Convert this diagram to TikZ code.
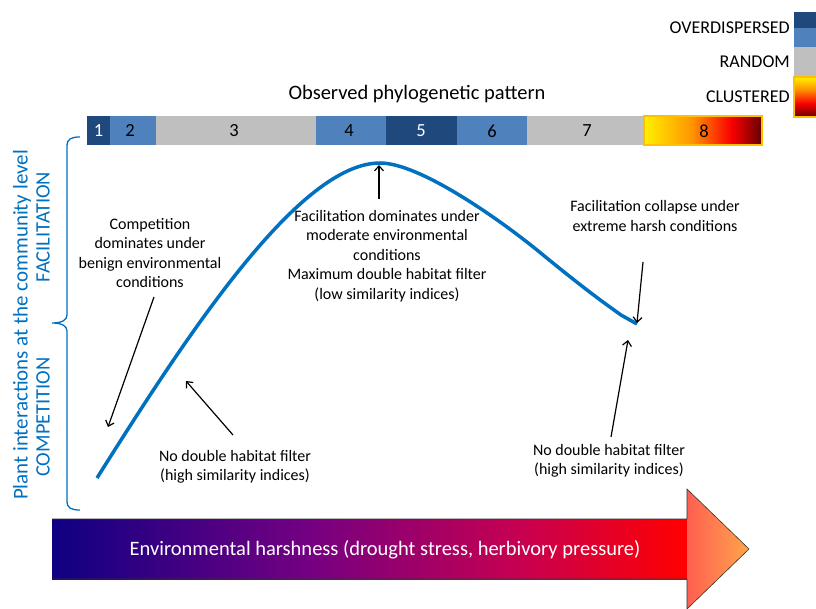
\documentclass[tikz,border=0pt]{standalone}
\usepackage{fontspec}
\setmainfont{Carlito}
\usetikzlibrary{arrows.meta}

\definecolor{dkblue}{RGB}{31,73,125}
\definecolor{ltblue}{RGB}{79,129,189}
\definecolor{midgrey}{RGB}{191,191,191}
\definecolor{plantblue}{RGB}{0,112,192}
\definecolor{goldline}{RGB}{255,192,0}
\definecolor{clyellow}{RGB}{255,240,0}
\definecolor{clorange}{RGB}{255,150,0}
\definecolor{clred}{RGB}{250,0,0}
\definecolor{cldark}{RGB}{100,0,0}
\definecolor{harshnavy}{RGB}{15,0,130}
\definecolor{harshpurple}{RGB}{115,0,130}
\definecolor{harshcrimson}{RGB}{200,0,80}
\definecolor{harshred}{RGB}{255,0,0}
\definecolor{headleft}{RGB}{255,95,80}
\definecolor{headright}{RGB}{255,165,75}

\pgfdeclarehorizontalshading{clusteredh}{100bp}{color(0bp)=(clyellow); color(25bp)=(clyellow); color(45bp)=(clorange); color(62bp)=(clred); color(75bp)=(cldark); color(100bp)=(cldark)}
\pgfdeclareverticalshading{clusteredv}{100bp}{color(0bp)=(cldark); color(25bp)=(cldark); color(42bp)=(clred); color(60bp)=(clorange); color(75bp)=(clyellow); color(100bp)=(clyellow)}
\pgfdeclarehorizontalshading{harsh}{100bp}{color(0bp)=(harshnavy); color(25bp)=(harshnavy); color(45bp)=(harshpurple); color(62bp)=(harshcrimson); color(75bp)=(harshred); color(100bp)=(harshred)}

\tikzset{
  note/.style={font=\fontsize{16}{19.5}\selectfont, align=center, inner sep=0pt},
  num/.style={font=\fontsize{18.5}{18.5}\selectfont, inner sep=0pt},
  leg/.style={anchor=east, font=\fontsize{18}{18}\selectfont, inner sep=0pt},
  ptr/.style={-{Straight Barb[length=5pt,width=9pt]}, line width=1.2pt},
}

\begin{document}
\begin{tikzpicture}[x=1pt,y=-1pt]%phylogenetic pattern along harshness
\useasboundingbox (0,0) rectangle (816,609);
% legend
\fill[dkblue] (794,12) rectangle (816,28);
\fill[ltblue] (794,28) rectangle (816,47);
\fill[midgrey] (794,47) rectangle (816,77);
\shade[shading=clusteredv] (794,77) rectangle (816,117);
\draw[goldline, line width=1.5pt] (816,77) -- (794,77) -- (794,117) -- (816,117);
\node[leg] (over) at (790,28) {OVERDISPERSED};
\node[leg] (rand) at (790,62) {RANDOM};
\node[leg] (clus) at (790,97) {CLUSTERED};
% bar
\node[font=\fontsize{20.5}{20.5}\selectfont] (title) at (417,94) {Observed phylogenetic pattern};
\fill[dkblue] (87,116) rectangle (110,145);
\fill[ltblue] (110,116) rectangle (156,145);
\fill[midgrey] (156,116) rectangle (316,145);
\fill[ltblue] (316,116) rectangle (386,145);
\fill[dkblue] (386,116) rectangle (457,145);
\fill[ltblue] (457,116) rectangle (527,145);
\fill[midgrey] (527,116) rectangle (644,145);
\shade[shading=clusteredh] (644,116) rectangle (762,145);
\draw[goldline, line width=1.5pt] (644,116) rectangle (762,145);
\node[num, white] (n1) at (98.5,131) {1};
\node[num] (n2) at (130,131) {2};
\node[num] (n3) at (234,131) {3};
\node[num] (n4) at (349,131) {4};
\node[num, white] (n5) at (421,131) {5};
\node[num] (n6) at (492,131) {6};
\node[num] (n7) at (587,131) {7};
\node[num] (n8) at (704,131) {8};
% brace and axis labels
\draw[plantblue, line width=1.3pt] (80,137) .. controls (71,137) and (67,139) .. (67,146) -- (67,315)
  .. controls (67,320) and (62,323) .. (52,323) .. controls (62,323) and (67,326) .. (67,331)
  -- (67,501) .. controls (67,508) and (71,510) .. (80,510);
\node[rotate=90, text=plantblue, font=\fontsize{21}{21}\selectfont] (axis) at (22,325) {Plant interactions at the community level};
\node[rotate=90, text=plantblue, font=\fontsize{20.5}{20.5}\selectfont] (facil) at (43,227) {FACILITATION};
\node[rotate=90, text=plantblue, font=\fontsize{20.5}{20.5}\selectfont] (compe) at (43,417) {COMPETITION};
% curve
\coordinate (start) at (97,478);
\coordinate (peak) at (380,163);
\coordinate (fall) at (537,250);
\coordinate (bend) at (621,315);
\coordinate (collapse) at (637,324);
\draw[plantblue, line width=3.5pt] (start) .. controls (190,330) and (300,163) .. (peak)
  .. controls (420,163) and (500,220) .. (fall)
  .. controls (570,277) and (590,293) .. (bend) -- (collapse);
% notes
\node[note] (compnote) at (150,253) {Competition\\dominates under\\benign environmental\\conditions};
\node[note] (nofilt1) at (235,467) {No double habitat filter\\(high similarity indices)};
\node[note] (facnote) at (387,256) {Facilitation dominates under\\moderate environmental\\conditions\\Maximum double habitat filter\\(low similarity indices)};
\node[note] (colnote) at (655,216) {Facilitation collapse under\\extreme harsh conditions};
\node[note] (nofilt2) at (609,461) {No double habitat filter\\(high similarity indices)};
% pointers
\coordinate (compTail) at (154,297);
\coordinate (compTip) at (108,427);
\coordinate (nf1Tail) at (233,435);
\coordinate (nf1Tip) at (186,381);
\coordinate (facTail) at (379,199);
\coordinate (facTip) at (379,165);
\coordinate (colTail) at (643,262);
\coordinate (colTip) at (637,323);
\coordinate (nf2Tail) at (611,437);
\coordinate (nf2Tip) at (628,340);
\draw[ptr] (compTail) -- (compTip);
\draw[ptr] (nf1Tail) -- (nf1Tip);
\draw[ptr] (facTail) -- (facTip);
\draw[ptr] (colTail) -- (colTip);
\draw[ptr] (nf2Tail) -- (nf2Tip);
% harshness arrow
\shade[shading=harsh] (52,519) rectangle (687,579);
\shade[left color=headleft, right color=headright] (687,489) -- (749,549) -- (687,609) -- cycle;
\draw[black!80, line width=0.6pt] (52,519) -- (687,519) -- (687,489) -- (749,549) -- (687,609) -- (687,579) -- (52,579);
\node[white, font=\fontsize{20.5}{20.5}\selectfont] (harsh) at (385,550) {Environmental harshness (drought stress, herbivory pressure)};
\end{tikzpicture}
\end{document}
